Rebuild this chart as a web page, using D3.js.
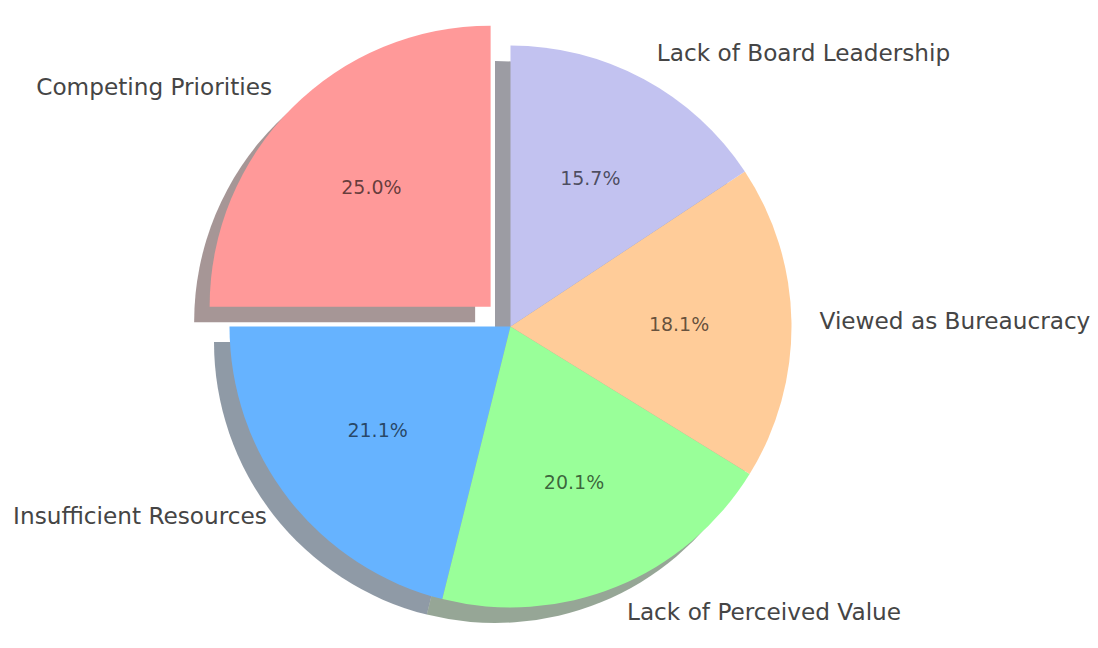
<!DOCTYPE html>
<html>
<head>
<meta charset="utf-8">
<script src="https://cdn.jsdelivr.net/npm/d3@7/dist/d3.min.js"></script>
<style>
  html, body { margin: 0; padding: 0; background: #ffffff; }
  svg { display: block; }
  text { font-family: "DejaVu Sans", sans-serif; }
</style>
</head>
<body>
<svg id="chart" width="1098" height="648"></svg>
<script>
// Barriers to adoption, share of responses (%)
const categories = [
  "Competing Priorities",
  "Insufficient Resources",
  "Lack of Perceived Value",
  "Viewed as Bureaucracy",
  "Lack of Board Leadership"
];
const shares = [25.0, 21.1, 20.1, 18.1, 15.7];
const sliceColors = ["#ff9999", "#66b3ff", "#99ff99", "#ffcc99", "#c2c2f0"];
const explodeBy = [0.1, 0, 0, 0, 0];

const width = 1098, height = 648;
const cx = 510.5, cy = 326.5, radius = 281;
const shadowDx = -15.5, shadowDy = 15.5;
const labelDist = 1.1, pctDist = 0.6;

const svg = d3.select("#chart");
const root = svg.append("g").attr("transform", `translate(${cx},${cy})`);

// Start at 12 o'clock and run counter-clockwise
const pie = d3.pie()
  .value(d => d)
  .sort(null)
  .startAngle(0)
  .endAngle(-2 * Math.PI);

const arcs = pie(shares).map((a, i) => {
  const mid = (a.startAngle + a.endAngle) / 2;
  const off = explodeBy[i] * radius;
  return Object.assign(a, {
    i,
    mid,
    ox: Math.sin(mid) * off,
    oy: -Math.cos(mid) * off
  });
});

const arcGen = d3.arc().innerRadius(0).outerRadius(radius);

// Drop shadows: each wedge darkened and offset, drawn below all wedges
root.append("g")
  .selectAll("path")
  .data(arcs)
  .join("path")
  .attr("transform", d => `translate(${d.ox + shadowDx},${d.oy + shadowDy})`)
  .attr("d", arcGen)
  .attr("fill", d => {
    const c = d3.rgb(sliceColors[d.i]);
    return d3.rgb(c.r * 0.3, c.g * 0.3, c.b * 0.3).formatHex();
  })
  .attr("fill-opacity", 0.5);

// Wedges
root.append("g")
  .selectAll("path")
  .data(arcs)
  .join("path")
  .attr("transform", d => `translate(${d.ox},${d.oy})`)
  .attr("d", arcGen)
  .attr("fill", d => sliceColors[d.i]);

// Category labels outside the pie
root.append("g")
  .selectAll("text")
  .data(arcs)
  .join("text")
  .attr("x", d => d.ox + Math.sin(d.mid) * radius * labelDist)
  .attr("y", d => d.oy - Math.cos(d.mid) * radius * labelDist)
  .attr("dy", "0.3em")
  .attr("text-anchor", d => Math.sin(d.mid) < 0 ? "end" : "start")
  .attr("font-size", 23.2)
  .attr("fill", "#454545")
  .text(d => categories[d.i]);

// Percentage labels inside the wedges
const fmt = d3.format(".1f");
root.append("g")
  .selectAll("text")
  .data(arcs)
  .join("text")
  .attr("x", d => d.ox + Math.sin(d.mid) * radius * pctDist)
  .attr("y", d => d.oy - Math.cos(d.mid) * radius * pctDist)
  .attr("dy", "0.35em")
  .attr("text-anchor", "middle")
  .attr("font-size", 19)
  .attr("fill", "#000000")
  .attr("fill-opacity", 0.62)
  .text(d => fmt(d.data) + "%");
</script>
</body>
</html>
